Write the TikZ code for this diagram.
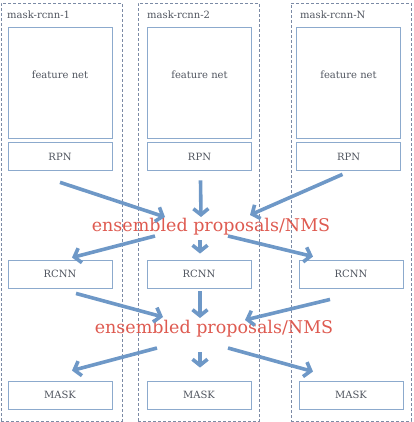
\documentclass[tikz,border=0pt]{standalone}
\usepackage{fontspec}
\setmainfont{DejaVu Serif}
\usepackage{tikz}
\usetikzlibrary{arrows.meta, positioning}
\definecolor{colline}{HTML}{7B8AA5}
\definecolor{boxline}{HTML}{8CAACD}
\definecolor{arrblue}{HTML}{6E98C7}
\definecolor{nmsred}{HTML}{DE5A50}
\definecolor{labgray}{HTML}{50555F}
\tikzset{
  colbox/.style={rectangle, draw=colline, dash pattern=on 3pt off 2pt, line width=0.7pt, minimum width=121pt, minimum height=418pt},
  netbox/.style={rectangle, draw=boxline, line width=0.9pt, minimum width=104pt, minimum height=28pt, text=labgray, font=\fontsize{10}{12}\selectfont},
  collabel/.style={anchor=west, inner sep=0pt, text=labgray, font=\fontsize{10}{12}\selectfont},
  nmstext/.style={inner sep=0pt, text=nmsred, font=\fontsize{17.5}{20}\selectfont},
  ensarr/.style={draw=arrblue, line width=3.6pt, -{Straight Barb[length=6pt, width=15pt]}},
}

\begin{document}
\begin{tikzpicture}[x=1pt, y=-1pt]
\useasboundingbox (0,0) rectangle (413,422);
% the three networks
\node[colbox] (col1) at (61.5,212) {};
\node[colbox] (col2) at (198.5,212) {};
\node[colbox, minimum width=120pt] (col3) at (351,212) {};
\node[collabel] (lab1) at (7,15) {mask-rcnn-1};
\node[collabel] (lab2) at (147,15) {mask-rcnn-2};
\node[collabel] (lab3) at (300,15) {mask-rcnn-N};
\node[netbox, minimum height=111pt, text depth=15pt] (feat1) at (60,82.5) {feature net};
\node[netbox, minimum height=111pt, text depth=15pt] (feat2) at (199.5,82.5) {feature net};
\node[netbox, minimum height=111pt, text depth=15pt] (feat3) at (348.5,82.5) {feature net};
\node[netbox, below=4pt of feat1] (rpn1) {RPN};
\node[netbox, below=4pt of feat2] (rpn2) {RPN};
\node[netbox, below=4pt of feat3] (rpn3) {RPN};
\node[netbox] (rcnn1) at (60,274) {RCNN};
\node[netbox] (rcnn2) at (199,274) {RCNN};
\node[netbox] (rcnn3) at (351,274) {RCNN};
\node[netbox] (mask1) at (60,395) {MASK};
\node[netbox] (mask2) at (199,395) {MASK};
\node[netbox] (mask3) at (351,395) {MASK};
% ensembling steps
\node[nmstext] (nms1) at (211,227) {ensembled proposals/NMS};
\node[nmstext] (nms2) at (214,329) {ensembled proposals/NMS};
\draw[ensarr] ([yshift=-11pt]rpn1.south) -- ([xshift=-46pt,yshift=10pt]nms1.center);
\draw[ensarr] ([xshift=1pt,yshift=-9pt]rpn2.south) -- ([xshift=-10pt,yshift=10pt]nms1.center);
\draw[ensarr] ([xshift=-6pt,yshift=-3pt]rpn3.south) -- ([xshift=39pt,yshift=12pt]nms1.center);
\draw[ensarr] ([xshift=-56pt,yshift=-9pt]nms1.center) -- ([xshift=12pt,yshift=2pt]rcnn1.north);
\draw[ensarr] ([xshift=-11pt,yshift=-13pt]nms1.center) -- ([xshift=1pt,yshift=6pt]rcnn2.north);
\draw[ensarr] ([xshift=17pt,yshift=-9pt]nms1.center) -- ([xshift=-38pt,yshift=3pt]rcnn3.north);
\draw[ensarr] ([xshift=16pt,yshift=-5pt]rcnn1.south) -- ([xshift=-51pt,yshift=12pt]nms2.center);
\draw[ensarr] ([xshift=1pt,yshift=-3pt]rcnn2.south) -- ([xshift=-14pt,yshift=11pt]nms2.center);
\draw[ensarr] ([xshift=-21pt,yshift=-11pt]rcnn3.south) -- ([xshift=31pt,yshift=9pt]nms2.center);
\draw[ensarr] ([xshift=-57pt,yshift=-19pt]nms2.center) -- ([xshift=12pt,yshift=10pt]mask1.north);
\draw[ensarr] ([xshift=-14pt,yshift=-23pt]nms2.center) -- ([xshift=1pt,yshift=13pt]mask2.north);
\draw[ensarr] ([xshift=14pt,yshift=-19pt]nms2.center) -- ([xshift=-38pt,yshift=9pt]mask3.north);
\end{tikzpicture}
\end{document}
